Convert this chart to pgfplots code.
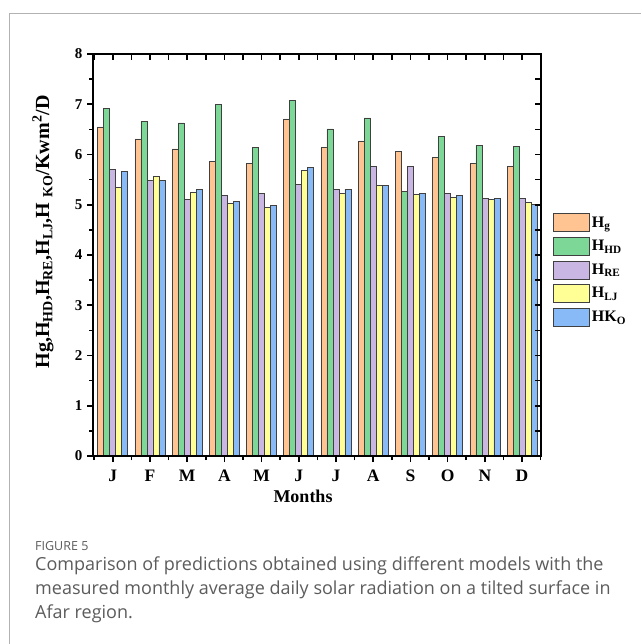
\documentclass[border=0pt]{standalone}
\usepackage{pgfplots}
\pgfplotsset{compat=1.18}
\usepackage{fontspec}
\setmainfont{Liberation Serif}
\newfontfamily\capfont{Open Sans}

\definecolor{cHg}{RGB}{255,196,146}
\definecolor{cHD}{RGB}{125,216,152}
\definecolor{cRE}{RGB}{202,182,226}
\definecolor{cLJ}{RGB}{255,255,150}
\definecolor{cKO}{RGB}{135,186,246}
\definecolor{capgray}{RGB}{92,92,92}

% monthly average daily radiation, kWh/m^2/day
\pgfplotstableread{
m   Hg    HD    RE    LJ    KO
0   6.55  6.92  5.71  5.34  5.66
1   6.31  6.66  5.49  5.57  5.49
2   6.11  6.63  5.10  5.25  5.31
3   5.87  6.99  5.18  5.03  5.07
4   5.82  6.14  5.23  4.94  4.99
5   6.71  7.07  5.41  5.69  5.74
6   6.14  6.51  5.31  5.23  5.31
7   6.27  6.73  5.77  5.38  5.38
8   6.06  5.26  5.77  5.21  5.23
9   5.95  6.36  5.23  5.15  5.18
10  5.82  6.18  5.13  5.10  5.12
11  5.77  6.16  5.13  5.04  5.01
}\radtable

\begin{document}
\begin{tikzpicture}[x=1pt,y=1pt]
\useasboundingbox (0,0) rectangle (641,-644);
\fill[white] (0,0) rectangle (641,-644);
\draw[black!30, line width=0.9pt] (9,-644) -- (9,-13) -- (641,-13);

% main axis: bars, left and bottom ticks
\begin{axis}[
  at={(93pt,-456pt)}, anchor=south west,
  scale only axis, width=448pt, height=402pt,
  ybar=0pt, bar width=6pt,
  xmin=-0.53, xmax=11.51, ymin=0, ymax=8,
  xtick={0,...,11},
  xticklabels={J,F,M,A,M,J,J,A,S,O,N,D},
  minor xtick={-0.5,0.5,...,11.5},
  ytick={0,...,8},
  minor ytick={0.5,1.5,...,7.5},
  xtick pos=left, ytick pos=left,
  tick align=outside,
  major tick length=6pt, minor tick length=4pt,
  axis line style={line width=2pt, black},
  every tick/.style={line width=1.6pt, black},
  /pgf/number format/assume math mode=true,
  yticklabel style={font=\fontsize{15}{17}\selectfont\bfseries, xshift=-1pt},
  xticklabel style={font=\fontsize{17.5}{20}\selectfont\bfseries,
    text height=12pt, text depth=0pt, yshift=-4pt},
  legend image code/.code={\draw[#1, draw=black!75, line width=0.6pt] (0pt,-9pt) rectangle (36pt,9pt);},
  legend style={at={(1.027,0.604)}, anchor=north west, draw=none, fill=none,
    font=\fontsize{16}{18}\selectfont\bfseries,
    row sep=5pt, inner sep=0pt, cells={anchor=west},
    /tikz/every even column/.append style={column sep=3pt}},
  legend cell align=left,
]
\addplot[fill=cHg, draw=black!75, line width=0.6pt] table[x=m, y=Hg] {\radtable};
\addplot[fill=cHD, draw=black!75, line width=0.6pt] table[x=m, y=HD] {\radtable};
\addplot[fill=cRE, draw=black!75, line width=0.6pt] table[x=m, y=RE] {\radtable};
\addplot[fill=cLJ, draw=black!75, line width=0.6pt] table[x=m, y=LJ] {\radtable};
\addplot[fill=cKO, draw=black!75, line width=0.6pt] table[x=m, y=KO] {\radtable};
\legend{H\textsubscript{g}, H\textsubscript{HD}, H\textsubscript{RE}, H\textsubscript{LJ}, HK\textsubscript{O}}
\end{axis}

% overlay axis: inward ticks on top and right
\begin{axis}[
  at={(93pt,-456pt)}, anchor=south west,
  scale only axis, width=448pt, height=402pt,
  xmin=-0.53, xmax=11.51, ymin=0, ymax=8,
  xtick={-0.5,0,...,11.5}, ytick={0,0.5,...,8},
  xticklabels={}, yticklabels={},
  xtick pos=right, ytick pos=right,
  tick align=inside, major tick length=6pt,
  axis line style={line width=2pt, black},
  every tick/.style={line width=1.6pt, black},
]
\end{axis}

\node[rotate=90, font=\fontsize{20}{23}\selectfont\bfseries] at (43,-232)
  {Hg,H\textsubscript{HD},H\textsubscript{RE},H\textsubscript{LJ},H \textsubscript{KO}/Kwm\textsuperscript{2}/D};
\node[anchor=base, font=\fontsize{18}{20}\selectfont\bfseries] at (303,-502) {Months};

\begin{scope}[every node/.style={anchor=base west, inner sep=0pt, text=capgray}]
\node[font=\capfont\fontsize{12.5}{15}\selectfont] at (35,-550) {FIGURE 5};
\node[font=\capfont\fontsize{18}{21}\selectfont] at (35,-570)
  {Comparison of predictions obtained using different models with the};
\node[font=\capfont\fontsize{18}{21}\selectfont] at (35,-594)
  {measured monthly average daily solar radiation on a tilted surface in};
\node[font=\capfont\fontsize{18}{21}\selectfont] at (35,-618)
  {Afar region.};
\end{scope}
\end{tikzpicture}
\end{document}
